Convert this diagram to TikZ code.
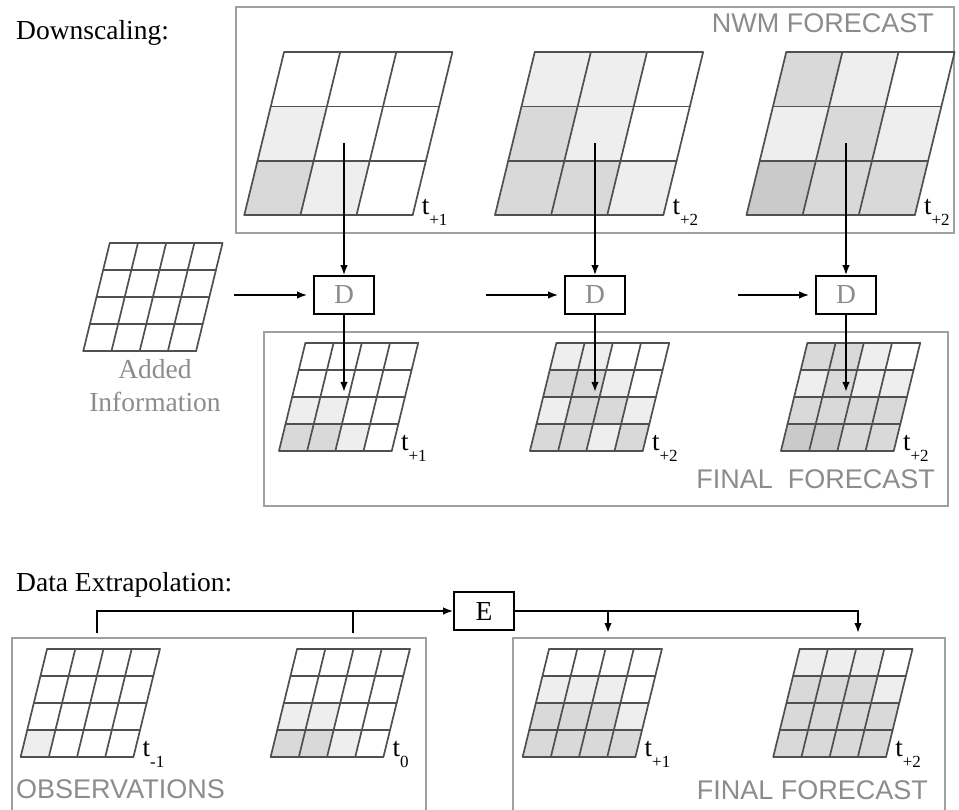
\documentclass[tikz,border=0pt]{standalone}
\usepackage{fontspec}
\setmainfont{Liberation Serif}
\setsansfont{Liberation Sans}
\usetikzlibrary{arrows.meta}

\definecolor{lt}{HTML}{EEEEEE}
\definecolor{md}{HTML}{D9D9D9}
\definecolor{dk}{HTML}{CACACA}
\definecolor{gridgray}{HTML}{505050}
\definecolor{panelgray}{HTML}{A0A0A0}
\definecolor{labelgray}{HTML}{8C8C8C}

% skewed grid: #1 cells per side, #2 shaded cells col/row/colour
\newcommand{\cells}[2]{%
  \foreach \cx/\cy/\sh in {#2}
    \fill[\sh] (\cx,\cy) -- ++(1,0) -- ++(0,1) -- ++(-1,0) -- cycle;
  \foreach \i in {0,...,#1}{
    \draw[gridline] (\i,0) -- (\i,#1);
    \draw[gridline] (0,\i) -- (#1,\i);
  }}
\newcommand{\tlab}[1]{t\raisebox{-11pt}{\fontsize{17}{17}\selectfont #1}}

\tikzset{
  bigcells/.style={x={(56.13pt,0pt)},y={(13.23pt,54.23pt)}},
  smallcells/.style={x={(28.2pt,0pt)},y={(6.6pt,26.95pt)}},
  gridline/.style={draw=gridgray,line width=1.7pt,line cap=round},
  panel/.style={draw=panelgray,line width=1.7pt},
  box/.style={draw,line width=1.8pt,minimum width=60pt,minimum height=38pt,inner sep=0pt,
    font=\fontsize{27.5}{30}\selectfont},
  flow/.style={line width=1.7pt,-{Latex[length=10pt,width=7.5pt]}},
  title/.style={font=\fontsize{27.5}{30}\selectfont,anchor=base west,inner sep=0pt},
  caption/.style={font=\sffamily\fontsize{27}{30}\selectfont,text=labelgray,inner sep=0pt},
  tmark/.style={anchor=base west,inner sep=0pt,xshift=9pt,font=\fontsize{27}{30}\selectfont}
}

\begin{document}
\begin{tikzpicture}[x=1pt,y=-1pt]
\useasboundingbox (0,0) rectangle (959,810);

% downscaling
\node[title] (down) at (16,40) {Downscaling:};
\draw[panel] (236,7) rectangle (954,233);
\node[caption,anchor=base east] (nwm) at (934,33) {NWM FORECAST};

\begin{scope}[shift={(244.3,215)},bigcells]
\cells{3}{0/1/lt,0/0/md,1/0/lt}
\node[tmark] (tn1) at (3,0) {\tlab{+1}};
\end{scope}
\begin{scope}[shift={(495,215)},bigcells]
\cells{3}{0/2/lt,1/2/lt,0/1/md,1/1/lt,0/0/md,1/0/md,2/0/lt}
\node[tmark] (tn2) at (3,0) {\tlab{+2}};
\end{scope}
\begin{scope}[shift={(746.5,215)},bigcells]
\cells{3}{0/2/md,1/2/lt,0/1/lt,1/1/md,2/1/lt,0/0/dk,1/0/md,2/0/md}
\node[tmark] (tn3) at (3,0) {\tlab{+2}};
\end{scope}

\begin{scope}[shift={(83.3,351)},smallcells]
\cells{4}{0/0/white}
\end{scope}
\node[font=\fontsize{27.5}{33}\selectfont,text=labelgray,align=center] (added) at (155,386) {Added\\Information};

\draw[panel] (264.3,332.3) rectangle (948.3,506);
\node[caption,anchor=base east] (fin) at (935,488) {FINAL\ \ FORECAST};

\begin{scope}[shift={(279,450.7)},smallcells]
\cells{4}{0/1/lt,1/1/lt,0/0/md,1/0/md,2/0/lt}
\node[tmark] (tf1) at (4,0) {\tlab{+1}};
\end{scope}
\begin{scope}[shift={(530,450.7)},smallcells]
\cells{4}{0/3/lt,1/3/lt,0/2/md,1/2/md,2/2/lt,0/1/lt,1/1/md,2/1/md,3/1/lt,0/0/md,1/0/md,2/0/lt,3/0/md}
\node[tmark] (tf2) at (4,0) {\tlab{+2}};
\end{scope}
\begin{scope}[shift={(781,450.7)},smallcells]
\cells{4}{0/3/md,1/3/md,2/3/lt,0/2/lt,1/2/md,2/2/lt,3/2/lt,0/1/md,1/1/md,2/1/md,3/1/md,0/0/dk,1/0/dk,2/0/md,3/0/md}
\node[tmark] (tf3) at (4,0) {\tlab{+2}};
\end{scope}

\node[box,text=labelgray] (d1) at (344,295) {D};
\node[box,text=labelgray] (d2) at (595,295) {D};
\node[box,text=labelgray] (d3) at (846,295) {D};
\coordinate (src1) at (344,143);
\coordinate (src2) at (595,143);
\coordinate (src3) at (846,143);
\coordinate (dst1) at (344,392);
\coordinate (dst2) at (595,392);
\coordinate (dst3) at (846,392);
\coordinate (in1) at (234,295);
\coordinate (in2) at (486,295);
\coordinate (in3) at (738,295);
\draw[flow] (src1) -- (d1);
\draw[flow] (src2) -- (d2);
\draw[flow] (src3) -- (d3);
\draw[flow] (d1) -- (dst1);
\draw[flow] (d2) -- (dst2);
\draw[flow] (d3) -- (dst3);
\draw[flow,shorten >=6pt] (in1) -- (d1);
\draw[flow,shorten >=6pt] (in2) -- (d2);
\draw[flow,shorten >=6pt] (in3) -- (d3);

% extrapolation
\node[title] (extra) at (16,591) {Data Extrapolation:};
\draw[panel] (11.7,638.3) rectangle (426,830);
\draw[panel] (513.3,638.3) rectangle (945,830);
\node[caption,anchor=base west] (obs) at (16,798) {OBSERVATIONS};
\node[caption,anchor=base east] (ffc) at (928,799) {FINAL FORECAST};

\begin{scope}[shift={(20.7,756.7)},smallcells]
\cells{4}{0/0/lt}
\node[tmark] (to1) at (4,0) {\tlab{-1}};
\end{scope}
\begin{scope}[shift={(270.7,756.7)},smallcells]
\cells{4}{0/1/lt,1/1/lt,0/0/md,1/0/md,2/0/lt}
\node[tmark] (to2) at (4,0) {\tlab{0}};
\end{scope}
\begin{scope}[shift={(522.7,756.7)},smallcells]
\cells{4}{0/2/lt,1/2/lt,2/2/lt,0/1/md,1/1/md,2/1/md,3/1/lt,0/0/md,1/0/md,2/0/md,3/0/md}
\node[tmark] (tx1) at (4,0) {\tlab{+1}};
\end{scope}
\begin{scope}[shift={(773.3,756.7)},smallcells]
\cells{4}{0/3/lt,1/3/lt,2/3/lt,0/2/md,1/2/md,2/2/md,3/2/lt,0/1/md,1/1/md,2/1/md,3/1/md,0/0/md,1/0/md,2/0/md,3/0/md}
\node[tmark] (tx2) at (4,0) {\tlab{+2}};
\end{scope}

\node[box] (ebox) at (484,611) {E};
\coordinate (obs1) at (97,633);
\coordinate (obs2) at (353,633);
\coordinate (ff1) at (608,633);
\coordinate (ff2) at (858,633);
\draw[flow] (obs1) |- (ebox);
\draw[line width=1.7pt] (obs2) -- (obs2 |- ebox);
\draw[flow] (ebox) -| (ff2);
\draw[flow] (ff1 |- ebox) -- (ff1);
\end{tikzpicture}
\end{document}
